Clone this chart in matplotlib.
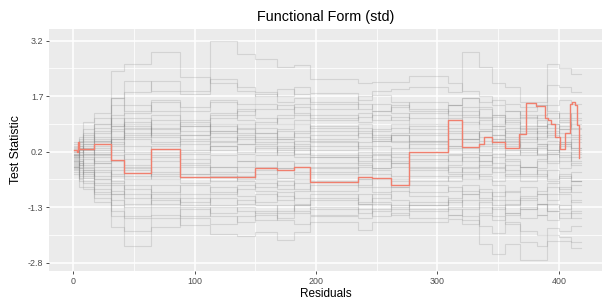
import matplotlib
matplotlib.use('Agg')
import matplotlib.pyplot as plt

# step positions shared by all simulated paths (Residuals axis)
gray_x = [1, 5, 8, 17, 31, 42, 64, 88, 113, 135, 150, 168, 182, 195, 235, 246,
          262, 277, 309, 320, 334, 345, 356, 368, 382, 390, 400, 410, 418]

# simulated paths, one value per step interval
gray_paths = [
    [0.45, 0.60, 1.00, 1.24, 2.38, 2.57, 2.90, 2.23, 2.05, 1.85, 1.80, 1.70, 1.95, 1.78,
     1.60, 1.72, 1.55, 1.35, 1.20, 1.40, 1.10, 0.90, 1.05, 0.80, 0.85, 0.95, 0.70, 0.60],
    [0.30, 0.40, 0.55, 0.95, 1.65, 2.10, 1.85, 1.75, 3.20, 2.83, 2.69, 2.50, 2.54, 2.17,
     2.05, 2.09, 2.09, 2.25, 2.05, 1.85, 1.70, 1.45, 1.30, 1.20, 1.10, 1.25, 1.00, 0.80],
    [0.10, 0.25, 0.40, 0.60, 0.90, 1.25, 1.55, 1.40, 1.60, 1.50, 1.75, 1.55, 1.65, 1.50,
     1.70, 1.85, 1.90, 1.95, 1.80, 2.90, 2.50, 2.06, 1.95, 1.55, 1.55, 2.00, 1.95, 1.80],
    [0.20, 0.05, 0.30, 0.25, 0.55, 0.80, 1.05, 0.90, 1.20, 1.05, 0.95, 1.10, 1.20, 1.05,
     1.15, 1.30, 1.40, 1.55, 1.45, 1.65, 1.55, 1.60, 1.50, 1.40, 1.45, 2.58, 2.45, 2.30],
    [-0.40, -0.76, -0.80, -1.17, -1.84, -2.35, -1.84, -1.60, -1.75, -1.55, -1.40, -1.60, -1.45, -1.30,
     -1.45, -1.20, -1.35, -1.25, -1.10, -1.30, -1.50, -1.65, -1.45, -1.60, -1.50, -1.20, -1.35, -1.10],
    [-0.30, -0.55, -0.65, -0.90, -1.40, -1.60, -1.50, -1.79, -2.03, -2.09, -1.97, -2.19, -1.97, -1.70,
     -1.92, -1.70, -1.70, -1.70, -1.62, -1.75, -1.45, -1.30, -1.50, -1.35, -1.20, -1.40, -1.25, -1.45],
    [-0.20, -0.35, -0.50, -0.70, -0.95, -1.20, -1.10, -1.30, -1.45, -1.30, -1.45, -1.25, -1.40, -1.50,
     -1.35, -1.55, -1.45, -1.60, -1.50, -1.65, -2.28, -2.55, -2.28, -2.73, -2.73, -2.20, -2.20, -2.40],
    [0.15, 0.30, 0.45, 0.70, 1.20, 1.45, 1.30, 1.05, 1.25, 1.35, 1.10, 0.95, 1.05, 0.85,
     0.95, 0.75, 0.85, 0.70, 0.55, 0.75, 0.60, 0.40, 0.55, 0.30, 0.35, 0.50, 0.40, 0.25],
    [-0.10, -0.25, -0.35, -0.55, -0.85, -1.05, -0.70, -0.95, -0.75, -1.00, -1.15, -0.90, -1.05, -0.95,
     -1.20, -1.05, -0.85, -1.00, -1.15, -0.95, -0.80, -1.00, -0.85, -1.10, -0.95, -0.75, -0.90, -0.70],
    [0.05, 0.12, 0.20, 0.10, 0.35, 0.60, 0.85, 0.65, 0.90, 0.70, 0.85, 0.60, 0.75, 0.55,
     0.70, 0.50, 0.65, 0.45, 0.30, 0.45, 0.20, 0.35, 0.10, 0.25, 0.15, 0.40, 0.20, 0.05],
    [-0.05, -0.15, 0.00, -0.20, -0.45, -0.30, -0.55, -0.40, -0.60, -0.45, -0.30, -0.50, -0.35, -0.20,
     -0.40, -0.25, -0.10, -0.30, -0.15, 0.05, -0.20, -0.35, -0.15, -0.40, -0.25, -0.05, -0.25, -0.10],
    [0.25, 0.45, 0.60, 0.85, 1.45, 1.80, 2.10, 1.85, 2.15, 1.95, 1.70, 1.90, 1.75, 1.55,
     1.35, 1.50, 1.25, 1.10, 1.30, 1.15, 0.95, 0.80, 0.60, 0.75, 0.55, 0.65, 0.45, 0.30],
    [-0.25, -0.45, -0.60, -0.95, -1.55, -1.95, -1.60, -1.35, -1.55, -1.70, -1.50, -1.65, -1.75, -1.55,
     -1.60, -1.40, -1.25, -1.40, -1.30, -1.10, -1.30, -1.55, -1.75, -1.95, -2.05, -1.85, -1.95, -1.80],
    [0.10, 0.20, 0.30, 0.45, 0.75, 0.55, 0.40, 0.20, 0.35, 0.15, 0.30, 0.10, 0.25, 0.05,
     0.20, 0.35, 0.20, 0.40, 0.55, 0.70, 0.50, 0.65, 0.85, 0.70, 0.90, 1.10, 1.25, 1.05],
    [-0.15, -0.05, -0.20, -0.35, -0.60, -0.80, -1.05, -1.25, -1.05, -1.20, -0.95, -1.10, -0.85, -0.70,
     -0.55, -0.75, -0.60, -0.45, -0.60, -0.40, -0.55, -0.70, -0.90, -0.75, -0.95, -1.10, -0.95, -1.15],
    [0.00, -0.10, 0.10, 0.30, 0.10, -0.15, 0.05, 0.25, 0.45, 0.60, 0.40, 0.55, 0.40, 0.25,
     0.45, 0.60, 0.45, 0.30, 0.15, -0.05, 0.10, -0.10, -0.30, -0.45, -0.30, -0.55, -0.40, -0.60],
    [0.35, 0.50, 0.70, 0.95, 1.65, 1.30, 1.60, 1.30, 1.55, 1.20, 1.35, 1.45, 1.25, 1.10,
     1.25, 1.05, 1.15, 0.95, 1.10, 0.95, 1.05, 1.20, 1.00, 0.85, 0.70, 0.95, 0.80, 0.95],
    [-0.20, -0.40, -0.30, -0.55, -0.30, -0.55, -0.35, -0.15, -0.35, -0.20, -0.05, -0.25, -0.10, 0.05,
     -0.15, -0.30, -0.45, -0.25, -0.40, -0.55, -0.40, -0.25, -0.45, -0.60, -0.45, -0.30, -0.50, -0.35],
    [0.08, 0.00, -0.15, 0.05, -0.20, 0.15, 0.35, 0.50, 0.25, 0.40, 0.20, 0.35, 0.15, 0.35,
     0.10, -0.05, 0.15, 0.00, -0.20, -0.35, -0.15, 0.05, 0.25, 0.10, 0.30, 0.15, -0.05, 0.20],
    [-0.35, -0.60, -0.75, -1.05, -1.25, -1.55, -1.30, -1.55, -1.30, -1.40, -1.65, -1.45, -1.25, -1.10,
     -0.95, -1.15, -1.30, -1.15, -1.35, -1.55, -1.80, -2.00, -1.70, -2.25, -2.35, -2.05, -2.10, -2.25],
    [0.40, 0.55, 0.80, 1.10, 0.90, 1.10, 0.80, 1.00, 0.75, 0.95, 0.70, 0.80, 0.95, 0.75,
     0.60, 0.80, 0.95, 0.80, 0.95, 1.20, 1.35, 1.15, 1.30, 1.10, 1.20, 1.45, 1.60, 1.50],
    [-0.05, 0.10, 0.05, -0.10, 0.20, 0.35, 0.10, -0.10, 0.10, -0.05, 0.10, 0.25, 0.05, -0.10,
     0.05, 0.20, 0.05, 0.20, 0.35, 0.20, 0.35, 0.50, 0.35, 0.45, 0.60, 0.75, 0.60, 0.45],
    [0.18, 0.30, 0.15, 0.35, 0.55, 0.85, 0.60, 0.40, 0.60, 0.40, 0.55, 0.75, 0.60, 0.45,
     0.30, 0.15, 0.30, 0.50, 0.70, 0.55, 0.75, 0.90, 0.70, 0.55, 0.75, 0.60, 0.80, 0.65],
    [-0.12, -0.25, -0.45, -0.30, -0.65, -0.45, -0.20, -0.40, -0.20, -0.35, -0.55, -0.70, -0.55, -0.40,
     -0.55, -0.40, -0.55, -0.70, -0.85, -0.70, -0.90, -1.10, -1.25, -1.05, -1.20, -0.95, -0.75, -0.90],
    [0.22, 0.35, 0.25, 0.55, 0.40, 0.65, 0.95, 0.75, 0.50, 0.65, 0.45, 0.30, 0.50, 0.65,
     0.85, 0.65, 0.50, 0.65, 0.85, 1.00, 0.80, 0.65, 0.45, 0.60, 0.40, 0.25, 0.45, 0.30],
    [-0.08, -0.20, -0.10, 0.15, -0.05, -0.25, -0.45, -0.65, -0.45, -0.60, -0.75, -0.60, -0.80, -0.60,
     -0.75, -0.90, -0.75, -0.60, -0.45, -0.25, -0.45, -0.60, -0.40, -0.20, -0.40, -0.60, -0.80, -0.60],
    [0.12, 0.25, 0.40, 0.20, 0.60, 0.95, 1.20, 0.95, 0.70, 0.85, 1.00, 1.20, 1.40, 1.20,
     1.00, 1.20, 1.05, 1.25, 1.45, 1.65, 1.40, 1.20, 0.95, 1.15, 0.90, 0.70, 0.90, 1.10],
    [-0.18, -0.30, -0.40, -0.65, -0.95, -0.70, -0.90, -0.70, -0.90, -0.70, -0.85, -1.00, -1.20, -1.35,
     -1.15, -0.95, -1.10, -1.25, -1.05, -0.85, -1.05, -1.25, -1.45, -1.30, -1.50, -1.65, -1.45, -1.60],
    [0.02, 0.15, 0.25, 0.50, 0.25, 0.00, 0.20, 0.00, -0.20, -0.05, -0.20, -0.05, -0.20, -0.35,
     -0.20, 0.00, -0.20, -0.05, 0.10, 0.30, 0.10, 0.30, 0.50, 0.30, 0.10, -0.10, 0.10, -0.05],
    [0.28, 0.20, 0.35, 0.15, 0.95, 0.70, 0.45, 0.65, 0.95, 0.80, 0.60, 0.45, 0.30, 0.10,
     -0.05, 0.10, -0.10, 0.10, -0.05, 0.15, -0.05, -0.20, 0.00, -0.20, 0.00, 0.20, 0.40, 0.55],
    [-0.28, -0.50, -0.35, -0.80, -1.10, -1.30, -0.95, -1.15, -0.95, -0.80, -0.65, -0.80, -0.65, -0.85,
     -0.70, -0.55, -0.75, -0.90, -0.75, -0.95, -1.10, -0.90, -1.10, -1.35, -1.20, -1.40, -1.60, -1.40],
    [0.05, -0.05, 0.15, -0.05, 0.45, 0.20, -0.05, 0.15, 0.35, 0.20, 0.35, 0.20, 0.35, 0.50,
     0.35, 0.50, 0.65, 0.50, 0.35, 0.55, 0.75, 0.55, 0.40, 0.20, 0.40, 0.25, 0.05, -0.15],
    [0.15, 0.35, 0.50, 0.75, 1.10, 0.90, 0.65, 0.55, 0.75, 0.55, 0.70, 0.55, 0.70, 0.90,
     0.75, 0.55, 0.70, 0.90, 0.75, 0.55, 0.40, 0.55, 0.75, 0.90, 1.05, 0.85, 1.05, 0.85],
    [-0.02, -0.15, -0.30, -0.10, -0.40, -0.20, -0.40, -0.20, -0.40, -0.55, -0.40, -0.25, -0.40, -0.25,
     -0.10, -0.25, -0.05, -0.20, -0.35, -0.20, -0.05, 0.15, -0.05, -0.20, -0.05, 0.15, 0.35, 0.15],
    [0.32, 0.45, 0.65, 0.50, 0.80, 1.00, 0.70, 0.90, 1.10, 1.30, 1.50, 1.35, 1.50, 1.35,
     1.50, 1.30, 1.45, 1.30, 1.45, 1.30, 1.15, 0.95, 1.10, 1.30, 1.45, 1.30, 1.10, 1.25],
    [-0.22, -0.10, -0.25, -0.45, -0.70, -0.95, -1.20, -1.05, -1.25, -1.10, -1.25, -1.40, -1.25, -1.05,
     -1.20, -1.35, -1.50, -1.35, -1.50, -1.35, -1.15, -1.35, -1.20, -1.00, -0.85, -0.65, -0.45, -0.60],
]

# observed process
red_x = [1, 3, 4, 5, 8, 17, 31, 42, 64, 88, 113, 135, 150, 168, 182, 195, 235, 246, 262, 277,
         309, 320, 334, 338, 345, 356, 367, 373, 381, 389, 391, 394, 397, 401, 405, 409, 411,
         413, 415, 416.5]
red_y = [0.24, 0.20, 0.45, 0.28, 0.26, 0.40, -0.03, -0.37, 0.27, -0.48, -0.47, -0.48, -0.24,
         -0.29, -0.22, -0.62, -0.48, -0.51, -0.69, 0.18, 1.05, 0.34, 0.41, 0.60, 0.46, 0.31,
         0.69, 1.52, 1.43, 1.11, 1.05, 0.95, 0.61, 0.27, 0.71, 1.49, 1.54, 1.47, 0.92, 0.04]

x_ticks = [0, 100, 200, 300, 400]
y_ticks = [-2.8, -1.3, 0.2, 1.7, 3.2]
y_labels = ['-2.8', '-1.3', '0.2', '1.7', '3.2']

plt.rcParams['font.family'] = ['Liberation Sans', 'DejaVu Sans']

fig = plt.figure(figsize=(6.07, 3.02), dpi=100)
ax = fig.add_axes([0.0807, 0.1026, 0.9108, 0.8014])
ax.set_facecolor('#EBEBEB')

for path in gray_paths:
    ax.step(gray_x, path + path[-1:], where='post', color='#808080', alpha=0.22, lw=0.8)
ax.step(red_x, red_y, where='post', color='#F07F6E', lw=1.0)

ax.set_xlim(-20, 435.5)
ax.set_ylim(-3.022, 3.513)
ax.set_xticks(x_ticks)
ax.set_xticks([50, 150, 250, 350], minor=True)
ax.set_yticks(y_ticks)
ax.set_yticklabels(y_labels)
ax.set_yticks([-2.05, -0.55, 0.95, 2.45], minor=True)
ax.grid(which='major', color='white', lw=1.1)
ax.grid(which='minor', color='white', lw=0.55)
ax.set_axisbelow(True)
for s in ax.spines.values():
    s.set_visible(False)
ax.tick_params(which='major', length=2.5, width=0.6, color='#333333',
               labelcolor='#4D4D4D', labelsize=6.4, pad=1.5)
ax.tick_params(which='minor', length=0)

ax.set_title('Functional Form (std)', fontsize=10.4, pad=6)
ax.set_xlabel('Residuals', fontsize=8.5, labelpad=1.5)
ax.set_ylabel('Test Statistic', fontsize=8.8, labelpad=4)

fig.savefig('out.png', dpi=100)
